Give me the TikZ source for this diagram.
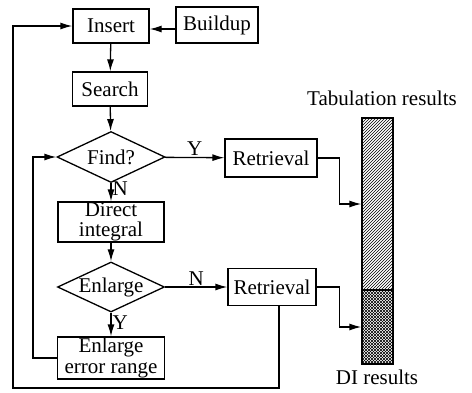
\documentclass[tikz,border=0pt]{standalone}
\usepackage{fontspec}
\setmainfont{Liberation Serif}
\usetikzlibrary{calc,shapes.geometric,arrows.meta,patterns}
\newcommand{\flowbox}[5][box]{\node [#1] (#2) at (#3) {#4}; #5}
\tikzset{
  box/.style={draw, line width=1.3pt, inner sep=0pt, align=center,
    font=\fontsize{21}{20.5}\selectfont},
  test/.style={box, diamond, aspect=2.1},
  arr/.style={line width=1.3pt, -{Latex[length=12pt,width=7pt]}},
  lbl/.style={font=\fontsize{21}{20.5}\selectfont, inner sep=1pt}
}

\begin{document}
\begin{tikzpicture}[x=1pt,y=-1pt]
        \useasboundingbox (0,0) rectangle (472,392);
        \pgfmathsetmacro{\loopx}{13}
        \pgfmathsetmacro{\loopy}{388}
        % flow boxes
        \flowbox[box,minimum width=76pt,minimum height=34pt]{insert}{111,26}{Insert}{}
        \flowbox[box,minimum width=82pt,minimum height=36pt]{buildup}{217,25}{Buildup}{}
        \flowbox[box,minimum width=75pt,minimum height=34pt]{search}{110,89}{Search}{}
        \flowbox[test,minimum width=108pt,minimum height=51pt]{find}{111,157}{Find?}{}
        \flowbox[box,minimum width=92pt,minimum height=38pt]{retrA}{271,158}{Retrieval}{}
        \flowbox[box,minimum width=106pt,minimum height=40pt]{direct}{111,222}{Direct\\integral}{}
        \flowbox[test,minimum width=107pt,minimum height=50pt]{enlarge}{111,287}{Enlarge}{}
        \flowbox[box,minimum width=88pt,minimum height=37pt]{retrB}{272,287}{Retrieval}{}
        \flowbox[box,minimum width=107pt,minimum height=42pt]{widen}{111,358}{Enlarge\\error range}{}
        % result bar
        \node [draw, line width=1.3pt, minimum width=31pt, minimum height=172pt, inner sep=0pt,
          pattern=north east lines] (tabbar) at (377.5,204) {};
        \node [draw, line width=1.3pt, minimum width=31pt, minimum height=74pt, inner sep=0pt,
          pattern=north east lines, preaction={pattern=north west lines}] (dibar) at (377.5,327) {};
        \node [lbl] (tablabel) at (382,98) {Tabulation results};
        \node [lbl] (dilabel) at (377,377) {DI results};
        \coordinate (outer) at (\loopx,\loopy);
        % connectors
        \draw [arr] (buildup.west |- 0,29) -- (insert.east |- 0,29);
        \draw [arr] (insert) -- (search);
        \draw [arr] (search) -- (find);
        \draw [arr] (find) -- node [lbl, above] {Y} (retrA);
        \draw [arr] (find) -- node [lbl, right, pos=0.3] {N} (direct);
        \draw [arr] (direct) -- (enlarge);
        \draw [arr] (enlarge) -- node [lbl, above] {N} (retrB);
        \draw [arr] (enlarge) -- node [lbl, right, pos=0.4] {Y} (widen);
        \draw [arr] (widen.west) -- ++(-24,0) |- (find.west);
        \draw [arr] ([xshift=7pt]retrB.south) |- (outer) |- (insert.west);
        \draw [arr] (retrA.east) -- ++(22,0) |- (tabbar.west);
        \draw [arr] (retrB.east) -- ++(23,0) |- (dibar.west);
      \end{tikzpicture}
\end{document}
